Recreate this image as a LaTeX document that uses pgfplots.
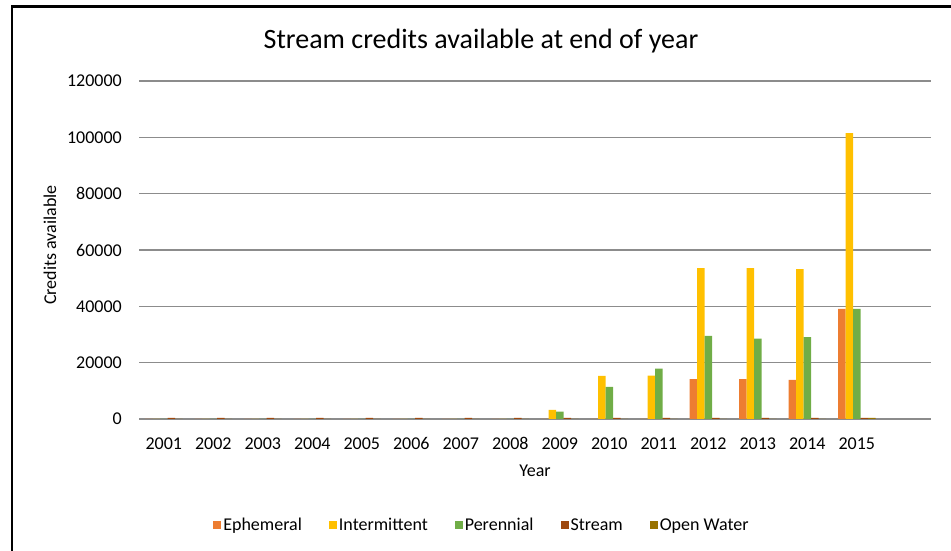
\documentclass[border=0pt]{standalone}
\usepackage{pgfplots}
\pgfplotsset{compat=1.18}
\usepackage{pgfplotstable}
\usepackage{fontspec}
\setmainfont{Carlito}
\definecolor{ceph}{HTML}{ED7D31}
\definecolor{cint}{HTML}{FFC000}
\definecolor{cper}{HTML}{70AD47}
\definecolor{cstr}{HTML}{9E480E}
\definecolor{cow}{HTML}{997300}
\definecolor{cgrid}{RGB}{140,140,140}
\pgfplotstableread{
x year eph int per str ow
0 2001 0 0 0 400 0
1 2002 0 0 0 400 0
2 2003 0 0 0 400 0
3 2004 0 0 0 400 0
4 2005 0 0 0 400 0
5 2006 0 0 0 400 0
6 2007 0 0 0 400 0
7 2008 0 0 0 400 0
8 2009 0 3200 2600 400 0
9 2010 0 15300 11400 400 0
10 2011 0 15400 17900 400 0
11 2012 14200 53600 29500 400 0
12 2013 14200 53600 28500 400 0
13 2014 13850 53200 29100 400 0
14 2015 39100 101500 39100 400 400
}\data
\begin{document}
\begin{tikzpicture}[x=1pt,y=1pt]
\path[use as bounding box] (0,0) rectangle (951,551);
\draw[line width=2.5pt] (12,0) -- (12,544.5) -- (951,544.5);
\begin{axis}[
  at={(139pt,132pt)}, anchor=south west,
  scale only axis, width=792pt, height=338pt,
  xmin=-0.5, xmax=15.5, ymin=0, ymax=120000,
  ybar=0pt, bar width=7.5pt,
  xtick={0,...,14},
  xticklabels={2001,2002,2003,2004,2005,2006,2007,2008,2009,2010,2011,2012,2013,2014,2015},
  ytick={0,20000,...,120000},
  scaled y ticks=false,
  /pgf/number format/assume math mode=true,
  yticklabel style={/pgf/number format/fixed,/pgf/number format/1000 sep={},inner sep=0pt,anchor=east},
  xticklabel style={inner sep=0pt,anchor=north},
  yticklabel shift=17pt,
  xticklabel shift=14pt,
  ticklabel style={font=\fontsize{18}{21}\selectfont, text=black},
  ymajorgrids,
  grid style={draw=cgrid, line width=1.2pt},
  axis line style={draw=none},
  tick style={draw=none},
  legend columns=5,
  legend style={at={(rel axis cs:0.433,-0.3136)}, anchor=center, draw=none, font=\fontsize{18}{21}\selectfont, /tikz/every even column/.append style={column sep=25pt}},
  legend image code/.code={\fill[#1] (0pt,-4pt) rectangle (8pt,4pt);},
]
\addplot[fill=ceph, draw=none] table[x=x, y=eph] {\data};
\addplot[fill=cint, draw=none] table[x=x, y=int] {\data};
\addplot[fill=cper, draw=none] table[x=x, y=per] {\data};
\addplot[fill=cstr, draw=none] table[x=x, y=str] {\data};
\addplot[fill=cow, draw=none] table[x=x, y=ow] {\data};
\legend{Ephemeral, Intermittent, Perennial, Stream, Open Water}
\end{axis}
\node[font=\fontsize{28}{32}\selectfont] at (481,510) {Stream credits available at end of year};
\node[font=\fontsize{18}{21}\selectfont] at (535,80) {Year};
\node[font=\fontsize{18}{21}\selectfont, rotate=90] at (50,306) {Credits available};
\end{tikzpicture}
\end{document}
